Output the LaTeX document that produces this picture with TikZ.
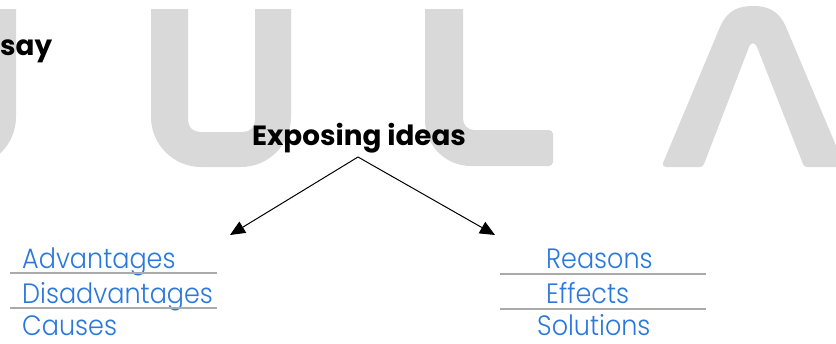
\documentclass[tikz,border=0pt]{standalone}
\usepackage{fontspec}
\usetikzlibrary{arrows.meta}
\newfontfamily\headfont{Poppins}
\newfontfamily\lightfont{Poppins Light}[FakeStretch=0.91]
\definecolor{wm}{HTML}{D9D9D9}
\definecolor{itemblue}{HTML}{2B78DC}
\definecolor{rule}{HTML}{AAAAAA}
\tikzset{
  wmark/.style={fill=wm, draw=none},
  heading/.style={font=\headfont\bfseries\fontsize{27.8}{30}\selectfont, inner sep=0pt, anchor=base},
  itemtext/.style={font=\lightfont\fontsize{28}{30}\selectfont, text=itemblue, inner sep=0pt, text depth=0pt, anchor=base west},
  itemrule/.style={draw=rule, line width=1.2pt},
  arr/.style={draw=black, line width=1pt, -{Triangle[length=15pt,width=13pt]}}
}
\newcommand{\wmUpath}{%
  (151,9) -- (188,9) -- (188,120) .. controls (188,127) and (193,132) .. (200,132)
  -- (243,132) .. controls (250,132) and (255,127) .. (255,120)
  -- (255,9) -- (291,9) -- (291,117) .. controls (291,144.5) and (268.5,167) .. (241,167)
  -- (201,167) .. controls (173.5,167) and (151,144.5) .. (151,117) -- cycle}
\begin{document}
\begin{tikzpicture}[x=1pt,y=-1pt]
\useasboundingbox (0,0) rectangle (836,343);
\begin{scope}
\clip (0,0) rectangle (836,343);
% partial U on the left
\begin{scope}[xshift=-275pt]
\fill[wmark] \wmUpath;
\end{scope}
% U
\fill[wmark] \wmUpath;
% L
\fill[wmark] (425,9) -- (463,9) -- (463,119) .. controls (463,125) and (468,130) .. (474,130)
  -- (549,130) .. controls (551,130) and (553,132) .. (553,134) -- (553,162)
  .. controls (553,164) and (551,166) .. (549,166)
  -- (471,166) .. controls (445.5,166) and (425,145.5) .. (425,120) -- cycle;
% Lambda
\fill[wmark] (666,167) .. controls (664,167) and (662,165) .. (663,163)
  -- (720,27) .. controls (728,9) and (740,6) .. (753,6)
  .. controls (766,6) and (778,9) .. (786,27)
  -- (845,167) -- (807,167) .. controls (805,167) and (804,166) .. (803,164)
  -- (757,47) .. controls (755,42) and (751,42) .. (749,47)
  -- (704,164) .. controls (703,166) and (702,167) .. (700,167) -- cycle;
\end{scope}
% partially visible title
\node[heading, anchor=base west] (title) at (0,55) {say};
% heading
\node[heading] (head) at (359,145) {Exposing ideas};
\coordinate (apex) at (358,157);
\coordinate (ltip) at (230,235);
\coordinate (rtip) at (495,235);
\draw[arr] (apex) -- (ltip);
\draw[arr] (apex) -- (rtip);
% left list
\node[itemtext] (adv) at (22,268) {Advantages};
\node[itemtext] (dis) at (22,303) {Disadvantages};
\node[itemtext] (cau) at (22,335) {Causes};
\coordinate (l1a) at (10,273); \coordinate (l1b) at (217,273);
\coordinate (l2a) at (10,308); \coordinate (l2b) at (217,308);
\draw[itemrule] (l1a) -- (l1b);
\draw[itemrule] (l2a) -- (l2b);
% right list
\node[itemtext] (rea) at (546,268) {Reasons};
\node[itemtext] (eff) at (546,303) {Effects};
\node[itemtext] (sol) at (537,335) {Solutions};
\coordinate (r1a) at (500,274); \coordinate (r1b) at (706,274);
\coordinate (r2a) at (500,309); \coordinate (r2b) at (706,309);
\draw[itemrule] (r1a) -- (r1b);
\draw[itemrule] (r2a) -- (r2b);
\end{tikzpicture}
\end{document}
